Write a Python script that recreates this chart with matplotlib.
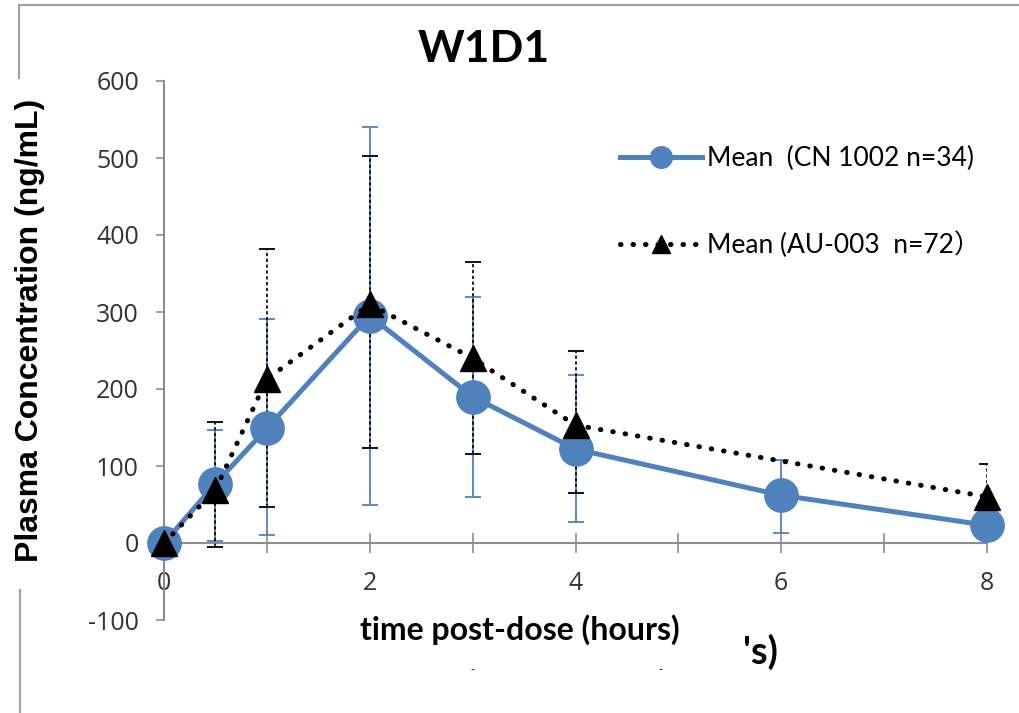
import matplotlib
matplotlib.use("Agg")
import matplotlib.pyplot as plt
from matplotlib.lines import Line2D
import numpy as np

plt.rcParams["axes.unicode_minus"] = False

# CN 1002 (n=34) mean and error bar ends, ng/mL
cn_time = [0, 0.5, 1, 2, 3, 4, 6, 8]
cn_mean = [0, 77, 149, 295, 190, 122, 62, 23]
cn_low = [0, 2, 10, 50, 60, 27, 13, 23]
cn_high = [0, 147, 291, 540, 320, 218, 108, 23]

# AU-003 (n=72) mean and error bar ends, ng/mL
au_time = [0, 0.5, 1, 2, 3, 4, 8]
au_mean = [0, 69, 213, 310, 240, 153, 60]
au_low = [0, -5, 47, 123, 115, 65, 17]
au_high = [0, 157, 382, 503, 365, 250, 103]

x_ticks = [0, 2, 4, 6, 8]
y_ticks = [-100, 0, 100, 200, 300, 400, 500, 600]

blue = "#4F81BD"
grey = "#8C8C8C"

fig = plt.figure(figsize=(10.19, 7.13), dpi=100)
ax = fig.add_axes([164 / 1019, 1 - 620 / 713, (987 - 164) / 1019, (620 - 81) / 713])

cn_mean_a = np.array(cn_mean)
cn_err = [cn_mean_a - np.array(cn_low), np.array(cn_high) - cn_mean_a]
au_mean_a = np.array(au_mean)
au_err = [au_mean_a - np.array(au_low), np.array(au_high) - au_mean_a]

# error bars first so markers sit on top
ax.errorbar(cn_time, cn_mean, yerr=cn_err, fmt="none", ecolor=blue,
            elinewidth=1.3, capsize=6, capthick=1.3, zorder=2)
eb2 = ax.errorbar(au_time, au_mean, yerr=au_err, fmt="none", ecolor="black",
                  elinewidth=1.2, capsize=6, capthick=1.3, zorder=3)
eb2[2][0].set_linestyle((0, (2, 1.5)))

ax.plot(cn_time, cn_mean, color=blue, lw=3.6, marker="o", ms=24,
        mfc=blue, mec=blue, label="Mean  (CN 1002 n=34)", zorder=4, clip_on=False)
ax.plot(au_time, au_mean, color="black", lw=3.6, ls=(0, (0.1, 2.4)),
        dash_capstyle="round", marker="^", ms=19, mfc="black", mec="black",
        label="Mean (AU-003  n=72\uff09", zorder=5, clip_on=False)

ax.set_xlim(0, 8)
ax.set_ylim(-100, 600)
ax.set_xticks(x_ticks)
ax.set_xticks(range(0, 9), minor=True)
ax.set_yticks(y_ticks)

for s in ["top", "right"]:
    ax.spines[s].set_visible(False)
ax.spines["bottom"].set_position(("data", 0))
ax.spines["bottom"].set_color(grey)
ax.spines["bottom"].set_linewidth(1.5)
ax.spines["left"].set_color(grey)
ax.spines["left"].set_linewidth(1.5)
ax.spines["bottom"].set_zorder(1)

ax.tick_params(axis="x", which="both", direction="inout", length=14, width=1.2,
               color=grey, pad=13, labelsize=18, labelcolor="#333333")
ax.tick_params(axis="y", direction="out", length=6, width=1.2, color=grey,
               pad=12, labelsize=18, labelcolor="#333333")
for lab in ax.get_xticklabels() + ax.get_yticklabels():
    lab.set_family("Open Sans")

ax.set_title("W1D1", family="Lato", fontweight="bold", fontsize=32, pad=14)
ax.title.set_position((0.389, 1))

fig.text(30 / 1019, 1 - 330 / 713, "Plasma Concentration (ng/mL)", rotation=90,
         ha="center", va="center", family="Liberation Sans", fontweight="bold",
         fontsize=23)
fig.text(520 / 1019, 1 - 630 / 713, "time post-dose (hours)", ha="center",
         va="center", family="Lato", fontweight="bold", fontsize=23)
fig.text(760 / 1019, 1 - 652 / 713, "'s)", ha="center", va="center",
         family="Lato", fontweight="bold", fontsize=27)
fig.text(472 / 1019, 1 - 669 / 713, "-", ha="center", va="center", fontsize=8)
fig.text(660 / 1019, 1 - 669 / 713, "-", ha="center", va="center", fontsize=8)

ax.legend(loc="upper left", bbox_to_anchor=(620 / 1019, 1 - 146 / 713),
          bbox_transform=fig.transFigure, frameon=False, handlelength=3.1,
          handletextpad=0.2, labelspacing=2.3, borderaxespad=0, borderpad=0,
          prop={"family": ["Lato", "Noto Sans CJK SC"], "size": 19},
          markerscale=0.65)

# outer frame remnants
frame_kw = dict(color="#A0A0A0", lw=1.5, transform=fig.transFigure)
fig.add_artist(Line2D([19 / 1019, 1], [1 - 5 / 713, 1 - 5 / 713], **frame_kw))
fig.add_artist(Line2D([19 / 1019, 19 / 1019], [1 - 5 / 713, 1 - 78 / 713], **frame_kw))
fig.add_artist(Line2D([20 / 1019, 20 / 1019], [1 - 590 / 713, 0], **frame_kw))

fig.savefig("out.png", dpi=100)
